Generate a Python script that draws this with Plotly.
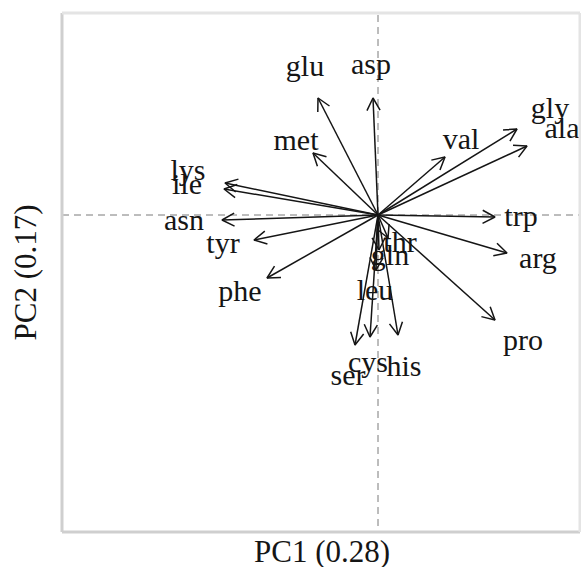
import math
import plotly.graph_objects as go

# PCA biplot of amino-acid loadings on the first two components
amino = ["glu", "asp", "met", "lys", "ile", "asn", "tyr", "phe", "ser", "cys",
         "his", "leu", "gln", "thr", "pro", "arg", "trp", "val", "gly", "ala"]
pc1 = [-0.60, -0.05, -0.65, -1.53, -1.54, -1.56, -1.24, -1.11, -0.23, -0.08,
       0.20, -0.02, 0.01, 0.10, 1.17, 1.29, 1.17, 0.67, 1.39, 1.49]
pc2 = [1.17, 1.17, 0.62, 0.32, 0.26, -0.05, -0.25, -0.63, -1.30, -1.22,
       -1.20, -0.55, -0.35, -0.23, -1.05, -0.38, -0.02, 0.58, 0.86, 0.69]
# label anchor points (same units as the loadings)
lab_x = [-0.73, -0.07, -0.82, -1.90, -1.91, -1.94, -1.55, -1.38, -0.30, -0.10,
         0.26, -0.03, 0.12, 0.22, 1.45, 1.60, 1.43, 0.83, 1.72, 1.84]
lab_y = [1.47, 1.49, 0.73, 0.43, 0.29, -0.07, -0.30, -0.78, -1.62, -1.49,
         -1.53, -0.77, -0.42, -0.29, -1.27, -0.45, -0.03, 0.74, 1.05, 0.85]

x_title = "PC1 (0.28)"
y_title = "PC2 (0.17)"

W, H = 581, 567
M = dict(l=62, r=1, t=13, b=35)
x_range = [-3.16, 2.02]
y_range = [-3.17, 2.02]
px_x = (W - M["l"] - M["r"]) / (x_range[1] - x_range[0])
px_y = (H - M["t"] - M["b"]) / (y_range[1] - y_range[0])

head_len = 14.0   # px
head_ang = math.radians(28)

xs, ys = [], []
for x, y in zip(pc1, pc2):
    # shaft
    xs += [0, x, None]
    ys += [0, y, None]
    # open arrow head, built in pixel space
    dx, dy = x * px_x, y * px_y
    a = math.atan2(dy, dx)
    hx, hy = [], []
    for s in (1, -1):
        b = a + math.pi + s * head_ang
        hx.append(x + head_len * math.cos(b) / px_x)
        hy.append(y + head_len * math.sin(b) / px_y)
    xs += [hx[0], x, hx[1], None]
    ys += [hy[0], y, hy[1], None]

fig = go.Figure()
fig.add_trace(go.Scatter(x=xs, y=ys, mode="lines",
                         line=dict(color="#151515", width=1.5),
                         hoverinfo="skip", showlegend=False))
fig.add_trace(go.Scatter(x=lab_x, y=lab_y, mode="text", text=amino,
                         textposition="middle center",
                         textfont=dict(family="Liberation Serif", size=30, color="#151515"),
                         showlegend=False))

# dashed reference lines through the origin
fig.add_shape(type="line", xref="x", yref="y", x0=x_range[0], x1=x_range[1], y0=0, y1=0,
              line=dict(color="#7a7a7a", width=1, dash="7px,5px"), layer="below")
fig.add_shape(type="line", xref="x", yref="y", x0=0, x1=0, y0=-3.11, y1=y_range[1],
              line=dict(color="#7a7a7a", width=1, dash="7px,5px"), layer="below")

# frame
fig.add_shape(type="line", xref="paper", yref="paper", x0=0, x1=0, y0=0, y1=1,
              line=dict(color="#cfcfcf", width=3))
fig.add_shape(type="line", xref="paper", yref="paper", x0=0, x1=1, y0=0, y1=0,
              line=dict(color="#cfcfcf", width=3))
fig.add_shape(type="line", xref="paper", yref="paper", x0=0, x1=1, y0=1, y1=1,
              line=dict(color="#e4e4e4", width=3))
fig.add_shape(type="line", xref="paper", yref="paper", x0=1, x1=1, y0=0, y1=1,
              line=dict(color="#e4e4e4", width=3))

plot_w = W - M["l"] - M["r"]
plot_h = H - M["t"] - M["b"]
fig.add_annotation(text=x_title, xref="paper", yref="paper",
                   x=(322 - M["l"]) / plot_w, y=-(551 - (H - M["b"])) / plot_h,
                   showarrow=False, xanchor="center", yanchor="middle",
                   font=dict(family="Liberation Serif", size=31, color="#151515"))
fig.add_annotation(text=y_title, xref="paper", yref="paper",
                   x=-(M["l"] - 25) / plot_w, y=0.5, textangle=-90,
                   showarrow=False, xanchor="center", yanchor="middle",
                   font=dict(family="Liberation Serif", size=31, color="#151515"))

fig.update_xaxes(range=x_range, showgrid=False, zeroline=False, showticklabels=False,
                 ticks="", showline=False, fixedrange=True)
fig.update_yaxes(range=y_range, showgrid=False, zeroline=False, showticklabels=False,
                 ticks="", showline=False, fixedrange=True)
fig.update_layout(width=W, height=H, margin=M, plot_bgcolor="white",
                  paper_bgcolor="white")

fig.write_html("out.html", config={"displayModeBar": False})
